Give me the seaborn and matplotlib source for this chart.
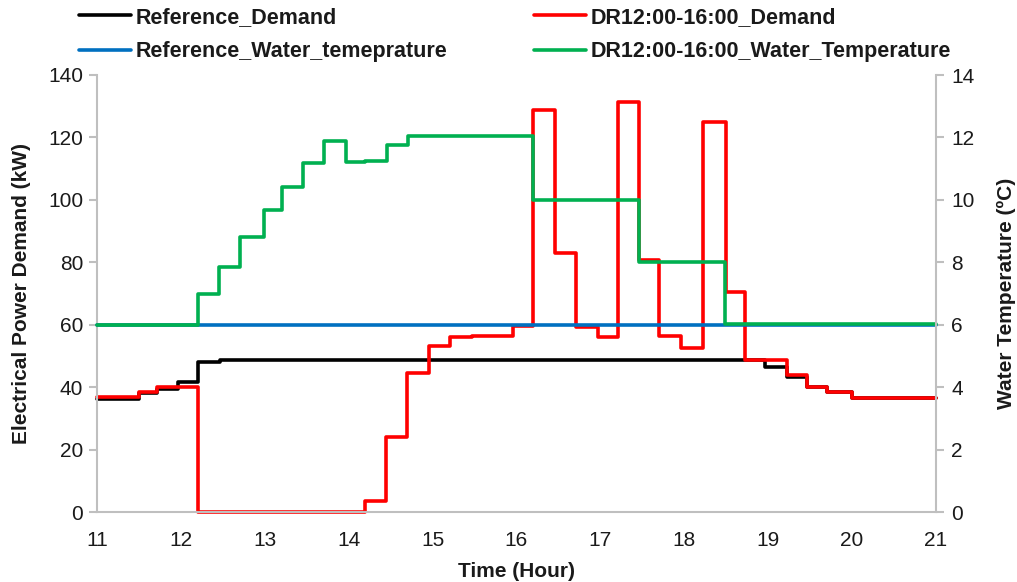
import matplotlib
matplotlib.use("Agg")
import matplotlib.pyplot as plt
from matplotlib.lines import Line2D
import pandas as pd
import seaborn as sns

# Demand profiles (kW), step changes at the listed hours
ref_demand_t = [11.0, 11.5, 11.72, 11.97, 12.2, 12.47, 18.96, 19.23, 19.46, 19.7, 20.0, 21.0]
ref_demand_kw = [36.2, 38.0, 39.4, 41.5, 48.2, 48.7, 46.3, 43.3, 40.1, 38.3, 36.4, 36.4]

dr_demand_t = [11.0, 11.5, 11.72, 12.2, 14.2, 14.45, 14.7, 14.96, 15.21, 15.47, 15.96,
               16.2, 16.46, 16.71, 16.97, 17.21, 17.46, 17.7, 17.96, 18.22, 18.5,
               18.72, 19.23, 19.46, 19.7, 20.0, 21.0]
dr_demand_kw = [37.0, 38.4, 40.2, 0.0, 3.6, 23.9, 44.4, 53.2, 56.2, 56.5, 59.6,
                128.8, 83.1, 59.4, 56.2, 131.2, 80.8, 56.4, 52.5, 124.9, 70.6,
                48.7, 43.9, 40.1, 38.3, 36.4, 36.4]

# Water temperature profiles (°C)
ref_water_t = [11.0, 21.0]
ref_water_c = [6.0, 6.0]

dr_water_t = [11.0, 12.2, 12.455, 12.7, 12.99, 13.2, 13.45, 13.71, 13.97, 14.2,
              14.46, 14.71, 16.2, 17.46, 18.49, 21.0]
dr_water_c = [6.0, 7.0, 7.85, 8.8, 9.66, 10.4, 11.18, 11.89, 11.2, 11.25,
              11.76, 12.03, 10.0, 8.02, 6.02, 6.02]

labels = ["Reference_Demand", "DR12:00-16:00_Demand",
          "Reference_Water_temeprature", "DR12:00-16:00_Water_Temperature"]
colors = ["#000000", "#FF0000", "#0070C0", "#00B050"]

sns.set_style("white")
plt.rcParams["font.family"] = ["Liberation Sans", "DejaVu Sans"]

W, H = 1017, 582
fig = plt.figure(figsize=(W / 100, H / 100), dpi=100)
ax = fig.add_axes([97 / W, 1 - 512 / H, (936 - 97) / W, (512 - 75) / H])
ax2 = ax.twinx()

lw = 2.6
series = [
    (ax, ref_demand_t, ref_demand_kw, colors[0]),
    (ax, dr_demand_t, dr_demand_kw, colors[1]),
    (ax2, ref_water_t, ref_water_c, colors[2]),
    (ax2, dr_water_t, dr_water_c, colors[3]),
]
for target, t, v, c in series:
    df = pd.DataFrame({"hour": t, "value": v})
    sns.lineplot(data=df, x="hour", y="value", ax=target, color=c, lw=lw,
                 drawstyle="steps-post", estimator=None, legend=False,
                 clip_on=False)

spine_c = "#BFBFBF"
text_c = "#1a1a1a"
ax.set_xlim(11, 21)
ax.set_ylim(0, 140)
ax2.set_ylim(0, 14)
ax.set_xticks(range(11, 22))
ax.set_yticks(range(0, 141, 20))
ax2.set_yticks(range(0, 15, 2))

for a in (ax, ax2):
    for s in a.spines.values():
        s.set_color(spine_c)
        s.set_linewidth(1.5)
    a.spines["top"].set_visible(False)
    a.tick_params(colors=spine_c, labelcolor=text_c, labelsize=15,
                  length=6, width=1.5, direction="out")
ax.spines["right"].set_visible(False)
ax2.spines["left"].set_visible(False)
ax2.spines["bottom"].set_visible(False)
ax.tick_params(axis="x", pad=8)
ax.tick_params(axis="y", pad=4)
ax2.tick_params(axis="y", pad=5)

ax.set_xlabel("Time (Hour)", fontsize=15, fontweight="bold", color=text_c, labelpad=8)
ax.set_ylabel("Electrical Power Demand (kW)", fontsize=15, fontweight="bold",
              color=text_c, labelpad=12)
ax2.set_ylabel("Water Temperature (ºC)", fontsize=15, fontweight="bold",
               color=text_c, labelpad=16)

handles = [Line2D([], [], color=c, lw=lw) for c in colors]
leg_kw = dict(loc="upper left", frameon=False, ncol=1, borderpad=0,
              borderaxespad=0, handlelength=2.4, handletextpad=0.25,
              labelspacing=0.62, prop={"size": 15.5, "weight": "bold"},
              labelcolor=text_c)
fig.legend([handles[0], handles[2]], [labels[0], labels[2]],
           bbox_to_anchor=(79 / W, 1 - 7 / H), **leg_kw)
fig.legend([handles[1], handles[3]], [labels[1], labels[3]],
           bbox_to_anchor=(534 / W, 1 - 7 / H), **leg_kw)

fig.savefig("out.png", dpi=100)
